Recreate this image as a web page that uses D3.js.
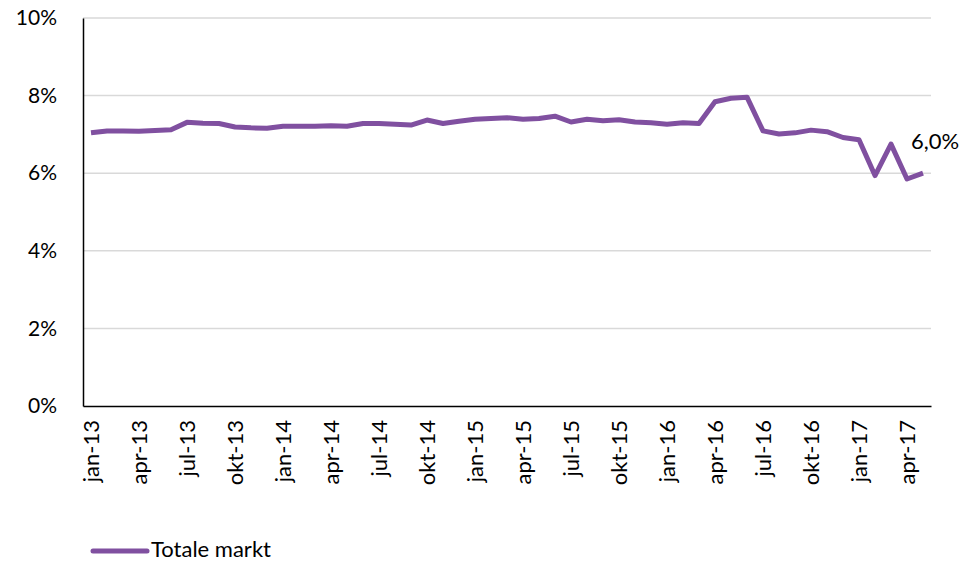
<!DOCTYPE html>
<html>
<head>
<meta charset="utf-8">
<script src="https://cdn.jsdelivr.net/npm/d3@7"></script>
<style>
  body { margin: 0; background: #fff; }
  text { font-family: Lato, "Open Sans", sans-serif; fill: #000; }
</style>
</head>
<body>
<svg id="chart" width="965" height="562"></svg>
<script>
// monthly series, jan-13 .. mei-17
var monthNames = ["jan", "feb", "mrt", "apr", "mei", "jun", "jul", "aug", "sep", "okt", "nov", "dec"];
var months = [];
for (var yr = 13; yr <= 17; yr++) {
  for (var m = 0; m < 12; m++) {
    if (yr === 17 && m > 4) break;
    months.push(monthNames[m] + "-" + yr);
  }
}

var totaleMarkt = [
  7.04, 7.09, 7.09, 7.08, 7.10, 7.12, 7.31, 7.29, 7.28, 7.19, 7.17, 7.16,
  7.21, 7.21, 7.21, 7.22, 7.21, 7.28, 7.28, 7.26, 7.24, 7.37, 7.28, 7.34,
  7.39, 7.41, 7.43, 7.39, 7.41, 7.47, 7.32, 7.39, 7.35, 7.38, 7.32, 7.30,
  7.26, 7.30, 7.28, 7.84, 7.93, 7.96, 7.09, 7.01, 7.04, 7.11, 7.07, 6.92,
  6.86, 5.94, 6.75, 5.85, 6.00
];

var yTicks = [0, 2, 4, 6, 8, 10];
var seriesName = "Totale markt";
var lastLabel = "6,0%";

var svg = d3.select("#chart"),
  margin = {top: 18, right: 34, bottom: 156, left: 83},
  width = +svg.attr("width") - margin.left - margin.right,
  height = +svg.attr("height") - margin.top - margin.bottom,
  g = svg.append("g").attr("transform", "translate(" + margin.left + "," + margin.top + ")");

var x = d3.scaleBand()
  .domain(months)
  .range([0, width]);

var y = d3.scaleLinear()
  .domain([0, 10])
  .range([height, 0]);

var purple = "#8050a0";

// gridlines
g.append("g")
  .selectAll("line")
  .data(yTicks.filter(function (d) { return d > 0; }))
  .enter().append("line")
  .attr("x1", 0)
  .attr("x2", width)
  .attr("y1", function (d) { return y(d); })
  .attr("y2", function (d) { return y(d); })
  .attr("stroke", "#d9d9d9")
  .attr("stroke-width", 1.5);

// y axis
var yAxis = g.append("g")
  .call(d3.axisLeft(y).tickValues(yTicks).tickSize(0).tickPadding(26)
    .tickFormat(function (d) { return d + "%"; }));
yAxis.select(".domain").attr("stroke", "#000").attr("stroke-width", 1.5);
yAxis.selectAll("text").style("font-size", "21px")
  .style("font-family", "Lato, 'Open Sans', sans-serif");

// x axis
var xAxis = g.append("g")
  .attr("transform", "translate(0," + height + ")")
  .call(d3.axisBottom(x)
    .tickValues(months.filter(function (d, i) { return i % 3 === 0; }))
    .tickSize(0));
xAxis.select(".domain").attr("stroke", "#000").attr("stroke-width", 1.5);
xAxis.selectAll("text")
  .style("font-size", "22px")
  .style("font-family", "Lato, 'Open Sans', sans-serif")
  .attr("text-anchor", "end")
  .attr("transform", "rotate(-90)")
  .attr("x", -14)
  .attr("y", 0)
  .attr("dy", "0.35em");

// line
var line = d3.line()
  .x(function (d, i) { return x(months[i]) + x.bandwidth() / 2; })
  .y(function (d) { return y(d); });

g.append("path")
  .datum(totaleMarkt)
  .attr("fill", "none")
  .attr("stroke", purple)
  .attr("stroke-width", 5)
  .attr("stroke-linejoin", "round")
  .attr("d", line);

// last value label
var n = totaleMarkt.length - 1;
g.append("text")
  .attr("x", x(months[n]) + x.bandwidth() / 2 + 12)
  .attr("y", y(totaleMarkt[n]) - 24)
  .attr("text-anchor", "middle")
  .style("font-size", "22px")
  .text(lastLabel);

// legend
svg.append("line")
  .attr("x1", 93).attr("x2", 147)
  .attr("y1", 551).attr("y2", 551)
  .attr("stroke", purple)
  .attr("stroke-width", 5)
  .attr("stroke-linecap", "round");
svg.append("text")
  .attr("x", 151)
  .attr("y", 557)
  .style("font-size", "22px")
  .text(seriesName);
</script>
</body>
</html>
